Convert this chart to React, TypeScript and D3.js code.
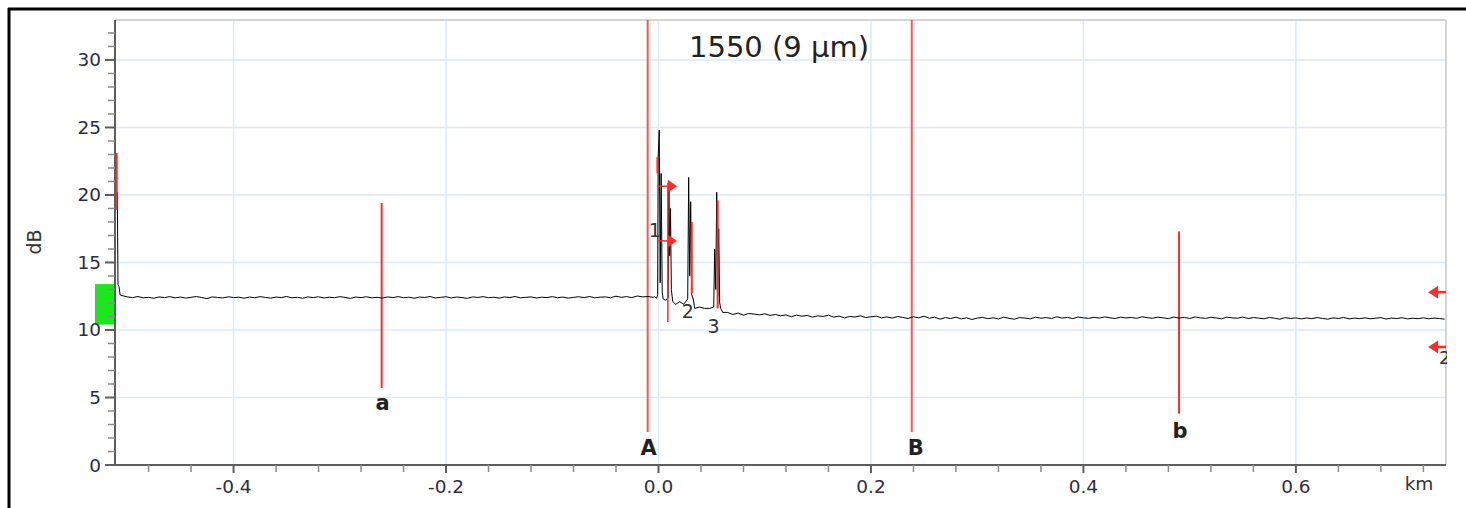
import React from 'react';
import * as d3 from 'd3';

// ---------- data ----------
const TITLE = '1550 (9 µm)';
const X_TICKS = [-0.4, -0.2, 0, 0.2, 0.4, 0.6];
const X_MINOR_TICKS = [-0.48, -0.44, -0.36, -0.32, -0.28, -0.24, -0.16, -0.12, -0.08, -0.04, 0.04, 0.08, 0.12, 0.16, 0.24, 0.28, 0.32, 0.36, 0.44, 0.48, 0.52, 0.56, 0.64, 0.68, 0.72];
const Y_TICKS = [0, 5, 10, 15, 20, 25, 30];
const Y_MINOR_TICKS = [1, 2, 3, 4, 6, 7, 8, 9, 11, 12, 13, 14, 16, 17, 18, 19, 21, 22, 23, 24, 26, 27, 28, 29, 31, 32];
const X_DOMAIN: [number, number] = [-0.5116, 0.7413];
const Y_DOMAIN: [number, number] = [0, 32.96];

// trace: launch spike
const START_POINTS: [number, number][] = [
  [-0.5094, 20.2], [-0.5088, 13.4], [-0.5078, 13.2], [-0.5068, 12.6],
];
// trace: fibre before event 1 (samples every 0.005 km from -0.505)
const BASE1_START = -0.505;
const BASE1_STEP = 0.005;
const BASE1_DB = [
  12.55, 12.45, 12.40, 12.48, 12.38, 12.42, 12.35, 12.45, 12.40, 12.47,
  12.38, 12.44, 12.36, 12.42, 12.48, 12.40, 12.33, 12.45, 12.41, 12.37,
  12.46, 12.40, 12.43, 12.35, 12.44, 12.39, 12.47, 12.41, 12.36, 12.44,
  12.40, 12.48, 12.38, 12.42, 12.35, 12.45, 12.40, 12.46, 12.37, 12.43,
  12.39, 12.47, 12.41, 12.34, 12.44, 12.40, 12.46, 12.38, 12.42, 12.36,
  12.45, 12.40, 12.47, 12.39, 12.43, 12.35, 12.44, 12.41, 12.48, 12.37,
  12.42, 12.46, 12.38, 12.44, 12.40, 12.34, 12.45, 12.41, 12.47, 12.39,
  12.43, 12.36, 12.45, 12.40, 12.48, 12.38, 12.42, 12.45, 12.37, 12.43,
  12.40, 12.47, 12.39, 12.44, 12.36, 12.42, 12.46, 12.40, 12.48, 12.38,
  12.43, 12.45, 12.39, 12.50, 12.42, 12.47, 12.40, 12.52, 12.45, 12.48,
  12.42,
];
// trace: reflective events 1-3
const PEAK_POINTS: [number, number][] = [
  [-0.0036, 12.45], [-0.0017, 12.35], [-0.0008, 12.6], [-0.0003, 22.8],
  [0.0007, 24.8], [0.0016, 13.5], [0.0025, 21.6], [0.0035, 12.8],
  [0.0044, 12.3], [0.0068, 12.2], [0.0091, 12.4], [0.0098, 20.4],
  [0.0105, 15.5], [0.0113, 19.0], [0.0121, 13.0], [0.0134, 12.1],
  [0.0162, 11.9], [0.02, 12.1], [0.0237, 11.9], [0.0275, 12.3],
  [0.0284, 21.3], [0.0294, 14.0], [0.0303, 19.5], [0.0313, 12.6],
  [0.0327, 12.3], [0.0341, 11.6], [0.0388, 11.7], [0.0435, 11.6],
  [0.0482, 11.6], [0.052, 11.7], [0.0529, 16.0], [0.0539, 13.0],
  [0.0548, 20.2], [0.0558, 12.5], [0.0567, 17.5], [0.0576, 12.0],
  [0.0586, 11.6], [0.0605, 11.3], [0.0633, 11.3],
];
// trace: fibre after event 3 (samples every 0.005 km from 0.065)
const BASE2_START = 0.065;
const BASE2_STEP = 0.005;
const BASE2_DB = [
  11.30, 11.15, 11.25, 11.10, 11.22, 11.18, 11.12, 11.20, 11.08, 11.15,
  11.05, 11.12, 10.98, 11.10, 11.02, 11.08, 10.95, 11.05, 11.00, 11.10,
  10.95, 11.03, 10.90, 11.00, 10.96, 11.05, 10.92, 10.98, 11.02, 10.90,
  10.97, 10.88, 11.00, 10.93, 10.85, 10.98, 10.90, 11.02, 10.87, 10.95,
  10.80, 10.92, 10.85, 10.95, 10.82, 10.90, 10.78, 10.88, 10.93, 10.84,
  10.90, 10.82, 10.95, 10.86, 10.80, 10.92, 10.88, 10.83, 10.95, 10.87,
  10.92, 10.85, 10.98, 10.88, 10.93, 10.84, 10.96, 10.90, 10.86, 10.94,
  10.88, 10.97, 10.90, 10.85, 10.95, 10.89, 10.93, 10.86, 10.98, 10.91,
  10.87, 10.95, 10.90, 10.84, 10.96, 10.88, 10.93, 10.85, 10.97, 10.90,
  10.86, 10.94, 10.89, 10.83, 10.95, 10.90, 10.87, 10.96, 10.85, 10.92,
  10.88, 10.83, 10.93, 10.87, 10.80, 10.92, 10.85, 10.90, 10.82, 10.89,
  10.84, 10.92, 10.86, 10.80, 10.90, 10.85, 10.93, 10.82, 10.88, 10.84,
  10.90, 10.83, 10.87, 10.92, 10.81, 10.88, 10.85, 10.91, 10.82, 10.87,
  10.84, 10.90, 10.83, 10.88, 10.85, 10.80,
];

// cursors (label, km, dB top, dB bottom)
const CURSOR_LABELS = ['a', 'A', 'B', 'b'];
const CURSOR_KM = [-0.2606, -0.0102, 0.2384, 0.4900];
const CURSOR_TOP_DB = [19.4, 32.96, 32.96, 17.3];
const CURSOR_BOTTOM_DB = [5.7, 2.45, 2.45, 3.8];

// event markers (label, km, dB top, dB bottom)
const EVENT_LABELS = ['1', '2', '3'];
const EVENT_KM = [0.0088, 0.0313, 0.0557];
const EVENT_TOP_DB = [20.9, 18.0, 19.6];
const EVENT_BOTTOM_DB = [10.6, 12.7, 11.6];
const EVENT1_ARROW_DB = [20.65, 16.6];
const EVENT1_ARROW_FROM_KM = -0.0015;
const PEAK1_MARK = { km: -0.0010, top: 22.8, bottom: 21.6 };
const LAUNCH_MARK = { km: -0.5100, top: 23.1, bottom: 18.9 };
const LAUNCH_BLOCK_DB = [13.4, 10.4];
const RIGHT_ARROW_DB = [12.8, 8.74];
const RIGHT_ARROW_KM = 0.7245;

// ---------- layout ----------
const W = 1466, H = 508;
const L = 115, T = 20, R = 1446, B = 465;
const FONT = '"DejaVu Sans", Verdana, sans-serif';
const RED = '#ff2a2a';

export default function App() {
  const x = d3.scaleLinear().domain(X_DOMAIN).range([L, R]);
  const y = d3.scaleLinear().domain(Y_DOMAIN).range([B, T]);

  const pts: [number, number][] = [
    ...START_POINTS,
    ...BASE1_DB.map((v, i) => [BASE1_START + i * BASE1_STEP, v] as [number, number]),
    ...PEAK_POINTS,
    ...BASE2_DB.map((v, i) => [BASE2_START + i * BASE2_STEP, v] as [number, number]),
  ];
  const line = d3.line<[number, number]>().x(d => x(d[0])).y(d => y(d[1]));

  const fmt = (v: number) => v.toFixed(1);

  return (
    <svg width={W} height={H} style={{ position: 'absolute', left: 0, top: 0, background: '#fff' }}
      fontFamily={FONT}>
      <defs>
        <clipPath id="plot"><rect x={L} y={T} width={R - L + 1} height={B - T} /></clipPath>
      </defs>
      <rect x={0} y={0} width={W} height={H} fill="#fff" />
      {/* outer frame */}
      <line x1={8} x2={W} y1={9} y2={9} stroke="#000" strokeWidth={3} />
      <line x1={9} x2={9} y1={8} y2={H} stroke="#000" strokeWidth={3} />

      {/* grid */}
      {X_TICKS.map(t => (
        <line key={'gx' + t} x1={x(t)} x2={x(t)} y1={T} y2={B} stroke="#d9eafb" strokeWidth={1.5} />
      ))}
      {Y_TICKS.filter(t => t > 0).map(t => (
        <line key={'gy' + t} x1={L} x2={R} y1={y(t)} y2={y(t)} stroke="#d9eafb" strokeWidth={1.5} />
      ))}
      {/* plot frame top/right */}
      <line x1={L} x2={R} y1={T} y2={T} stroke="#d4d4d4" strokeWidth={2} />
      <line x1={R} x2={R} y1={T} y2={B} stroke="#d4d4d4" strokeWidth={2} />

      {/* launch block */}
      <rect x={95} y={y(LAUNCH_BLOCK_DB[0])} width={L - 95} height={y(LAUNCH_BLOCK_DB[1]) - y(LAUNCH_BLOCK_DB[0])} fill="#1ee61e" />

      <g clipPath="url(#plot)">
        {/* cursors */}
        {CURSOR_KM.map((k, i) => (
          <line key={'c' + i} x1={x(k)} x2={x(k)} y1={y(CURSOR_TOP_DB[i])} y2={y(CURSOR_BOTTOM_DB[i])}
            stroke={RED} strokeWidth={2} opacity={i === 1 || i === 2 ? 0.8 : 1} />
        ))}
        {/* trace */}
        <path d={line(pts) || ''} fill="none" stroke="#000" strokeWidth={1} />
        {/* event markers */}
        {EVENT_KM.map((k, i) => (
          <line key={'e' + i} x1={x(k)} x2={x(k)} y1={y(EVENT_TOP_DB[i])} y2={y(EVENT_BOTTOM_DB[i])}
            stroke={RED} strokeWidth={i === 0 ? 1.5 : 2} />
        ))}
        <line x1={x(PEAK1_MARK.km)} x2={x(PEAK1_MARK.km)} y1={y(PEAK1_MARK.top)} y2={y(PEAK1_MARK.bottom)} stroke={RED} strokeWidth={2} />
        {EVENT1_ARROW_DB.map((d, i) => {
          const yy = y(d), x0 = x(EVENT1_ARROW_FROM_KM), xh = x(EVENT_KM[0]);
          return (
            <g key={'ea' + i}>
              <line x1={x0} x2={xh} y1={yy} y2={yy} stroke={RED} strokeWidth={1.5} />
              <path d={`M${xh},${yy - 6.5}L${xh + 9},${yy}L${xh},${yy + 6.5}Z`} fill={RED} />
            </g>
          );
        })}
        {RIGHT_ARROW_DB.map((d, i) => {
          const yy = y(d), xt = x(RIGHT_ARROW_KM);
          return (
            <g key={'ra' + i}>
              <path d={`M${xt},${yy}L${xt + 10},${yy - 6.5}L${xt + 10},${yy + 6.5}Z`} fill={RED} />
              <line x1={xt + 9} x2={R} y1={yy} y2={yy} stroke={RED} strokeWidth={2.5} />
            </g>
          );
        })}
        <text x={R - 7} y={y(RIGHT_ARROW_DB[1]) + 17} fontSize={18} fill="#333">2</text>
      </g>
      {/* launch marker */}
      <line x1={x(LAUNCH_MARK.km)} x2={x(LAUNCH_MARK.km)} y1={y(LAUNCH_MARK.top)} y2={y(LAUNCH_MARK.bottom)} stroke={RED} strokeWidth={2} />

      {/* event labels */}
      <text x={x(EVENT_KM[0]) - 13} y={237} fontSize={19} fill="#333" textAnchor="middle">{EVENT_LABELS[0]}</text>
      <text x={x(EVENT_KM[1]) - 4} y={318} fontSize={19} fill="#333" textAnchor="middle">{EVENT_LABELS[1]}</text>
      <text x={x(EVENT_KM[2]) - 4} y={333} fontSize={19} fill="#333" textAnchor="middle">{EVENT_LABELS[2]}</text>

      {/* cursor labels */}
      {CURSOR_LABELS.map((lab, i) => (
        <text key={'cl' + i} x={x(CURSOR_KM[i]) + (i === 2 ? 4 : 1)} y={y(CURSOR_BOTTOM_DB[i]) + (i === 0 ? 22 : i === 3 ? 24 : 23)}
          fontSize={21} fontWeight="bold" fill="#222" textAnchor="middle">{lab}</text>
      ))}

      {/* axes */}
      <line x1={L} x2={L} y1={T} y2={B + 1} stroke="#5e5e5e" strokeWidth={2} />
      <line x1={L - 1} x2={R} y1={B} y2={B} stroke="#5e5e5e" strokeWidth={2} />
      {Y_TICKS.map(t => (
        <g key={'yt' + t}>
          <line x1={L - 10} x2={L} y1={y(t)} y2={y(t)} stroke="#5e5e5e" strokeWidth={2} />
          <text x={101} y={y(t) + 6.5} fontSize={18.5} fill="#2d2d40" textAnchor="end">{t}</text>
        </g>
      ))}
      {Y_MINOR_TICKS.map(t => (
        <line key={'ym' + t} x1={L - 7} x2={L} y1={y(t)} y2={y(t)} stroke="#8a8a8a" strokeWidth={1.5} />
      ))}
      {X_TICKS.map(t => (
        <g key={'xt' + t}>
          <line x1={x(t)} x2={x(t)} y1={B} y2={B + 8} stroke="#5e5e5e" strokeWidth={2} />
          <text x={x(t)} y={493} fontSize={18.5} fill="#2d2d40" textAnchor="middle">{fmt(t)}</text>
        </g>
      ))}
      {X_MINOR_TICKS.map(t => (
        <line key={'xm' + t} x1={x(t)} x2={x(t)} y1={B} y2={B + 7} stroke="#8a8a8a" strokeWidth={1.5} />
      ))}
      <text x={1419} y={490} fontSize={18.5} fill="#333" textAnchor="middle">km</text>
      <text transform="translate(41,242) rotate(-90)" fontSize={19} fill="#333" textAnchor="middle">dB</text>

      {/* title */}
      <text x={779} y={57} fontSize={29} fill="#222" textAnchor="middle">{TITLE}</text>
    </svg>
  );
}
